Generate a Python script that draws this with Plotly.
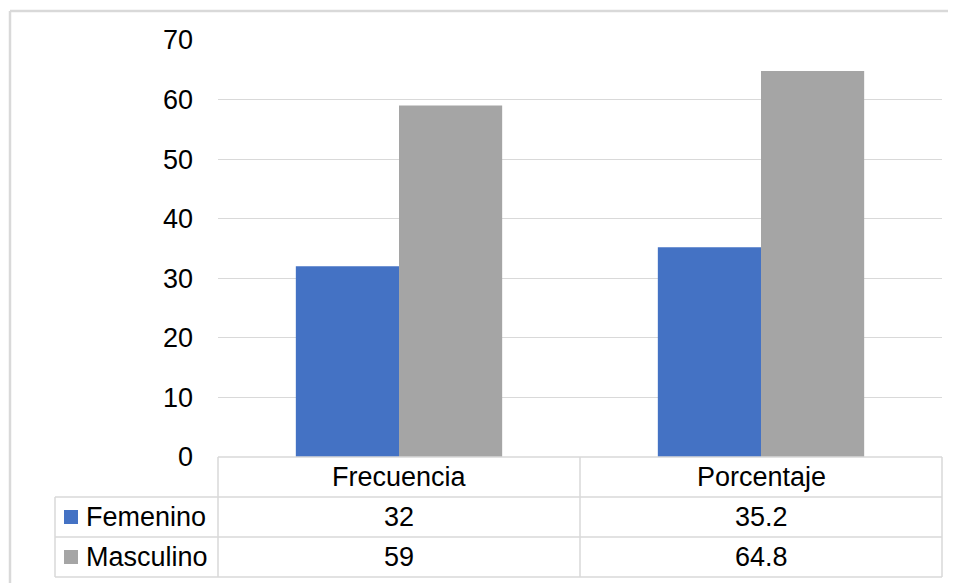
import plotly.graph_objects as go

categories = ["Frecuencia", "Porcentaje"]
series_names = ["Femenino", "Masculino"]
femenino = [32, 35.2]
masculino = [59, 64.8]
table_text = {"Femenino": ["32", "35.2"], "Masculino": ["59", "64.8"]}
y_ticks = [0, 10, 20, 30, 40, 50, 60, 70]
colors = ["#4472C4", "#A5A5A5"]

W, H = 956, 583
OFF = 8  # page body margin offset
def px(x):
    return (x - OFF) / W
def py(y):
    return 1 - (y - OFF) / H

FONT = "Liberation Sans, Arial, sans-serif"
FS = 27
GRID = "#D9D9D9"

fig = go.Figure()
for name, vals, col in zip(series_names, [femenino, masculino], colors):
    fig.add_trace(go.Bar(x=categories, y=vals, name=name, marker=dict(color=col, line=dict(width=0)),
                         hoverinfo="skip"))

x0, x1 = 218, 942
y_top, y_zero = 40, 457
fig.update_layout(
    width=W, height=H,
    margin=dict(l=0, r=0, t=0, b=0, pad=0),
    paper_bgcolor="white", plot_bgcolor="white",
    barmode="group", bargap=0.43, bargroupgap=0,
    showlegend=False,
    font=dict(family=FONT, size=FS, color="#000000"),
    xaxis=dict(domain=[px(x0), px(x1)], showticklabels=False, showgrid=False, zeroline=False,
               showline=False, ticks="", automargin=False),
    yaxis=dict(domain=[py(y_zero), py(y_top)], range=[0, 70], tickvals=y_ticks,
               showgrid=True, gridcolor=GRID, gridwidth=1, zeroline=False, showline=False,
               ticks="", ticklabelstandoff=24, automargin=False,
               tickfont=dict(size=FS, family=FONT, color="#000")),
)

shapes = []
def line(xa, ya, xb, yb, w=1.5, c=GRID):
    shapes.append(dict(type="line", xref="paper", yref="paper", x0=px(xa), y0=py(ya), x1=px(xb), y1=py(yb),
                       line=dict(color=c, width=w), layer="above"))

# outer chart border: only the top and left edges are inside the picture
line(10, 11, 964, 11, w=2.5)
line(10, 11, 10, 591, w=2.5)

# data table grid
line(x0, 457, x1, 457)
for yy in [497, 537, 577]:
    line(55, yy, x1, yy)
line(x0, 457, x0, 577)
line(580, 457, 580, 577)
line(x1, 457, x1, 577)
line(55, 497, 55, 577)

annotations = []
col_centers = [399, 761]
for cat, cx in zip(categories, col_centers):
    annotations.append(dict(x=px(cx), y=py(477), xref="paper", yref="paper", text=cat, showarrow=False,
                            xanchor="center", yanchor="middle", font=dict(size=FS, family=FONT, color="#000")))
row_centers = [517, 557]
for name, cy, col in zip(series_names, row_centers, colors):
    shapes.append(dict(type="rect", xref="paper", yref="paper", x0=px(64), x1=px(78), y0=py(cy + 7), y1=py(cy - 7),
                       fillcolor=col, line=dict(width=0)))
    annotations.append(dict(x=px(84), y=py(cy), xref="paper", yref="paper", text=name, showarrow=False,
                            xanchor="left", yanchor="middle", font=dict(size=FS, family=FONT, color="#000")))
    for t, cx in zip(table_text[name], col_centers):
        annotations.append(dict(x=px(cx), y=py(cy), xref="paper", yref="paper", text=t, showarrow=False,
                                xanchor="center", yanchor="middle", font=dict(size=FS, family=FONT, color="#000")))

fig.update_layout(shapes=shapes, annotations=annotations)
fig.write_html("out.html")
